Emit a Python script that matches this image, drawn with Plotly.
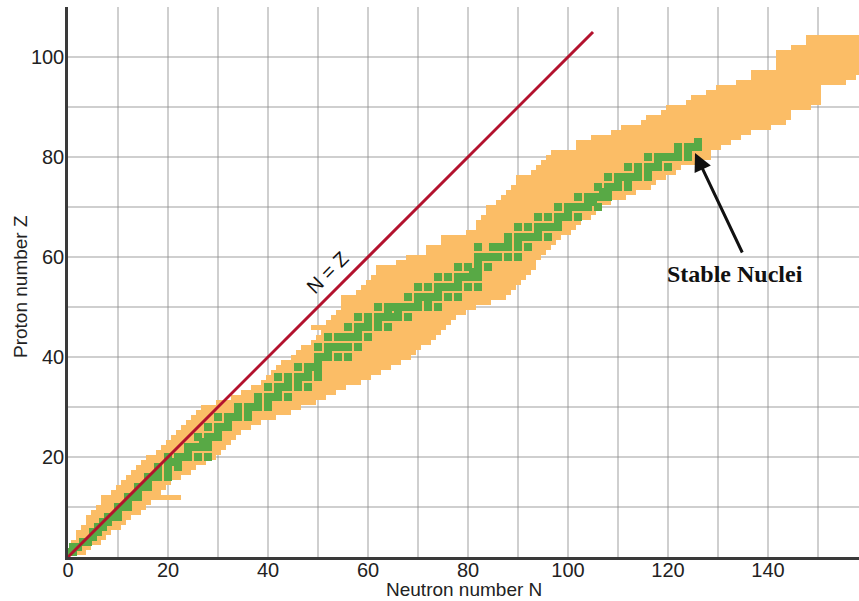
import plotly.graph_objects as go

# ---- data ----
proton_z = list(range(1, 105))
# lowest / highest neutron number of known nuclides (orange band) for each Z
band_nmin = [0, 1, 1, 2, 2, 3, 4, 4, 5, 6,
             7, 7, 9, 10, 11, 12, 13, 14, 15, 16,
             18, 19, 20, 21, 22, 23, 24, 25, 26, 27,
             30, 33, 35, 37, 39, 40, 41, 42, 43, 45,
             46, 47, 49, 50, 51, 49, 52, 53, 54, 55,
             55, 55, 58, 59, 60, 61, 62, 62, 66, 68,
             72, 72, 75, 75, 80, 82, 82, 83, 84, 84,
             86, 87, 88, 89, 90, 90, 93, 94, 95, 96,
             97, 102, 102, 105, 109, 111, 115, 116, 119, 120,
             124, 125, 128, 130, 134, 137, 137, 142, 142, 142,
             142, 145, 148, 148]
band_nmax = [3, 4, 6, 7, 8, 10, 11, 12, 14, 15,
             16, 22, 18, 19, 20, 22, 24, 25, 27, 29,
             30, 31, 32, 33, 34, 36, 38, 41, 44, 46,
             49, 51, 53, 55, 58, 60, 62, 64, 66, 68,
             69, 70, 72, 73, 74, 75, 76, 77, 79, 81,
             84, 87, 88, 89, 90, 91, 92, 93, 93, 94,
             95, 96, 97, 98, 100, 101, 102, 104, 105, 106,
             108, 111, 113, 116, 117, 119, 121, 122, 126, 128,
             128, 130, 132, 134, 136, 140, 143, 144, 144, 148,
             150, 150, 150, 150, 155, 157, 158, 160, 160, 160,
             160, 160, 160, 160]

# neutron numbers of stable nuclei (green) for Z = 1 .. 83
stable_n_by_z = [
    [0, 1], [1, 2], [3, 4], [5], [5, 6], [6, 7], [7, 8], [8, 9, 10], [10], [10, 11, 12],
    [12], [12, 13, 14], [14], [14, 15, 16], [16], [16, 17, 18, 20], [18, 20], [18, 20, 22], [20, 21, 22], [20, 22, 23, 24, 26, 28],
    [24], [24, 25, 26, 27, 28], [27, 28], [26, 28, 29, 30], [30], [28, 30, 31, 32], [32], [30, 32, 33, 34, 36], [34, 36], [34, 36, 37, 38, 40],
    [38, 40], [38, 40, 41, 42, 44], [42], [40, 42, 43, 44, 46, 48], [44, 46], [42, 44, 46, 47, 48, 50], [48, 50], [46, 48, 49, 50], [50], [50, 51, 52, 54, 56],
    [52], [50, 52, 53, 54, 55, 56, 58], [], [52, 54, 55, 56, 57, 58, 60], [58], [56, 58, 59, 60, 62, 64], [60, 62], [58, 60, 62, 63, 64, 65, 66, 68], [64, 66], [62, 64, 65, 66, 67, 68, 69, 70, 72, 74],
    [70, 72], [68, 70, 71, 72, 73, 74, 76, 78], [74], [70, 72, 74, 75, 76, 77, 78, 80, 82], [78], [74, 76, 78, 79, 80, 81, 82], [81, 82], [78, 80, 82, 84], [82], [82, 83, 84, 85, 86, 88, 90],
    [], [82, 85, 86, 87, 88, 90, 92], [88, 90], [88, 90, 91, 92, 93, 94, 96], [94], [90, 92, 94, 95, 96, 97, 98], [98], [94, 96, 98, 99, 100, 102], [100], [98, 100, 101, 102, 103, 104, 106],
    [104, 105], [102, 104, 105, 106, 107, 108], [107, 108], [106, 108, 109, 110, 112], [110, 112], [108, 110, 111, 112, 113, 114, 116], [114, 116], [112, 114, 116, 117, 118, 120], [118], [116, 118, 119, 120, 121, 122, 124],
    [122, 124], [122, 124, 125, 126], [126],
]

line_n = [0, 105]
line_z = [0, 105]

x_ticks = list(range(0, 160, 10))
y_ticks = list(range(0, 120, 10))

ORANGE = "#fbbd66"
GREEN = "#58a945"
RED = "#b3122e"
FONT = "Liberation Sans, Arial, sans-serif"
CELL = 1.5  # drawn size of a stable-nucleus square (in N/Z units)

# ---- figure ----
fig = go.Figure()

fig.add_trace(go.Bar(
    orientation="h",
    y=proton_z,
    base=[a - 0.5 for a in band_nmin],
    x=[b - a + 1 for a, b in zip(band_nmin, band_nmax)],
    width=1,
    marker=dict(color=ORANGE, line=dict(width=0)),
    hoverinfo="skip",
))

st_z, st_n = [], []
for z, ns in enumerate(stable_n_by_z, start=1):
    for n in ns:
        st_z.append(z)
        st_n.append(n)

fig.add_trace(go.Bar(
    orientation="h",
    y=st_z,
    base=[n - CELL / 2 for n in st_n],
    x=[CELL] * len(st_n),
    width=CELL,
    marker=dict(color=GREEN, line=dict(width=0)),
    hoverinfo="skip",
))

fig.add_trace(go.Scatter(
    x=line_n, y=line_z, mode="lines",
    line=dict(color=RED, width=3),
    hoverinfo="skip",
))

axis_common = dict(
    showgrid=True,
    gridcolor="rgba(140,140,140,0.42)",
    gridwidth=1.5,
    zeroline=False,
    showline=True,
    linecolor="#3a3a3a",
    linewidth=2.5,
    ticks="",
    tickfont=dict(family=FONT, size=20, color="#222222"),
    layer="above traces",
    tickmode="array",
)

fig.update_layout(
    width=859, height=601,
    margin=dict(l=68, r=0, t=7, b=44),
    plot_bgcolor="white",
    paper_bgcolor="white",
    barmode="overlay",
    bargap=0,
    showlegend=False,
    font=dict(family=FONT, color="#222222"),
    xaxis=dict(
        range=[0, 158.2],
        tickvals=x_ticks,
        ticktext=[str(v) if v % 20 == 0 else "" for v in x_ticks],
        ticklabelstandoff=-7,
        **axis_common,
    ),
    yaxis=dict(
        range=[0, 110],
        tickvals=y_ticks,
        ticktext=[str(v) if (v % 20 == 0 and v > 0) else "" for v in y_ticks],
        ticklabelstandoff=-3,
        **axis_common,
    ),
)

fig.add_annotation(
    text="Neutron number N", xref="paper", yref="paper",
    x=0.5, y=0, xanchor="center", yanchor="middle", yshift=-32,
    showarrow=False, font=dict(family=FONT, size=19, color="#222222"),
)
fig.add_annotation(
    text="Proton number Z", xref="paper", yref="paper",
    x=0, y=(557 - 287) / 550, xanchor="center", yanchor="middle", xshift=-47,
    textangle=-90, showarrow=False, font=dict(family=FONT, size=19, color="#222222"),
)
fig.add_annotation(
    text="N = Z", x=51.8, y=56.8, xref="x", yref="y",
    textangle=-45, showarrow=False,
    font=dict(family=FONT, size=20, color="#111111"),
)
fig.add_annotation(
    text="<b>Stable Nuclei</b>", x=133.4, y=56.6, xref="x", yref="y",
    showarrow=False,
    font=dict(family="Liberation Serif, Times New Roman, serif", size=24, color="#111111"),
)
fig.add_annotation(
    text="", x=125.4, y=80.8, xref="x", yref="y",
    ax=135, ay=60.6, axref="x", ayref="y",
    showarrow=True, arrowhead=2, arrowsize=1.2, arrowwidth=3, arrowcolor="#111111",
)

fig.write_html(
    "out.html",
    config={"displayModeBar": False},
    post_script="document.body.style.margin='0';document.body.style.overflow='hidden';",
)
